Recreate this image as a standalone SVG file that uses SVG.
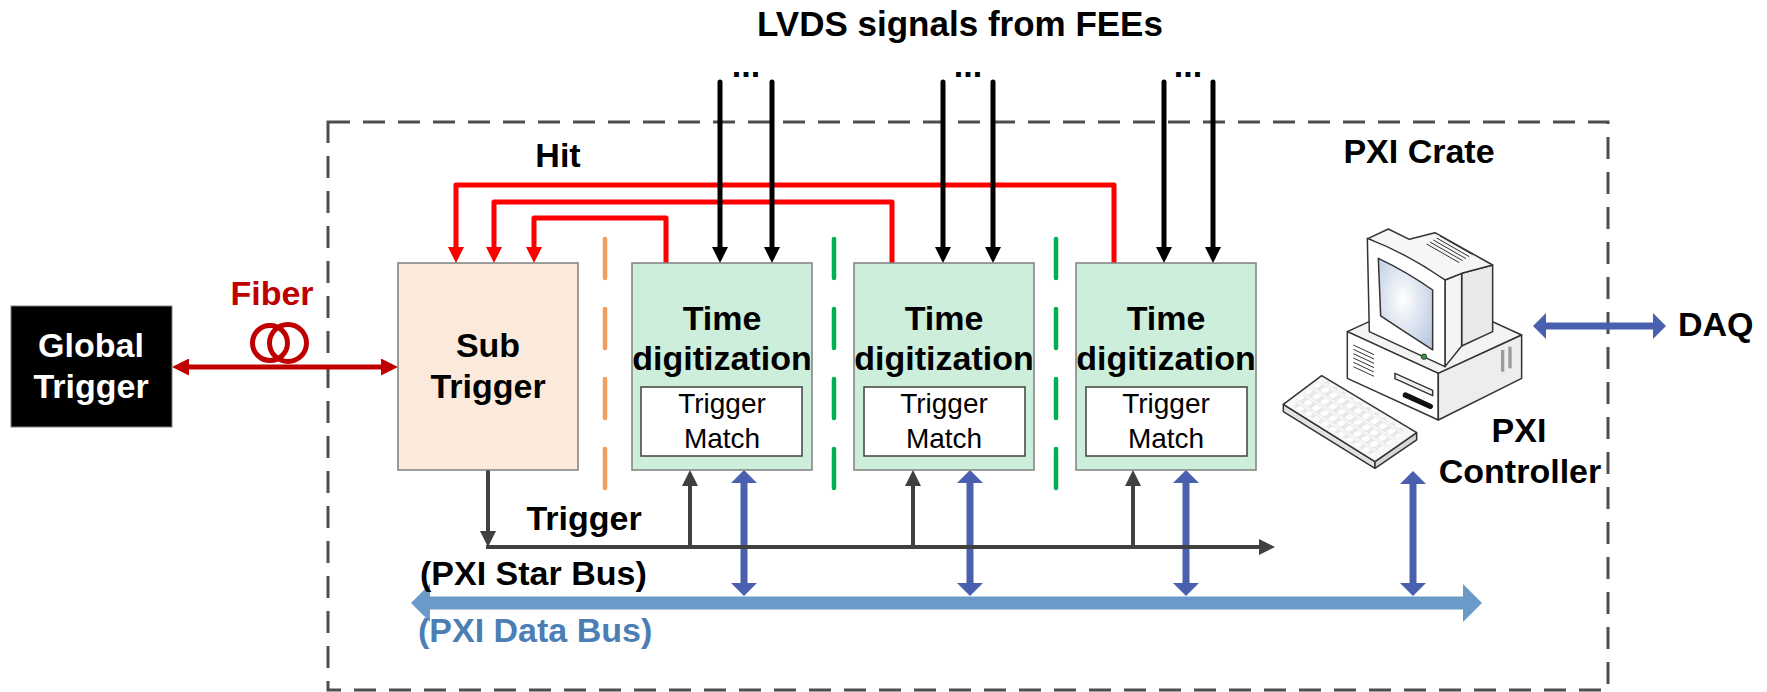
<svg xmlns="http://www.w3.org/2000/svg" width="1767" height="692" viewBox="0 0 1767 692">
  <style>
    .lb { font-family: "Liberation Sans", Arial, sans-serif; font-weight: bold; font-size: 34px; text-anchor: middle; fill: #000; }
    .lr { font-family: "Liberation Sans", Arial, sans-serif; font-size: 28px; text-anchor: middle; fill: #000; }
    .box { stroke: #7F7F7F; stroke-width: 1.5; }
    .sub { fill: #FBE9DB; }
    .tdc { fill: #CCEEDB; }
    .inner { fill: #FFFFFF; stroke: #404040; stroke-width: 1.5; }
    .hit { fill: none; stroke: #FF0000; stroke-width: 5; stroke-linejoin: round; marker-end: url(#aRed); }
    .lvds { fill: none; stroke: #000; stroke-width: 5; stroke-linecap: round; marker-end: url(#aBlack); }
    .trg { fill: none; stroke: #404040; stroke-width: 4; }
    .trga { marker-end: url(#aGray); }
    .blue { fill: none; stroke: #4A60AE; stroke-width: 7; marker-start: url(#aBlue); marker-end: url(#aBlue); }
    .sep { fill: none; stroke-width: 4.5; stroke-linecap: round; stroke-dasharray: 39 31; }
    .ic { stroke: #333; stroke-width: 4.5; stroke-linejoin: round; }
  </style>
  <defs>
    <marker id="aRed" markerUnits="userSpaceOnUse" viewBox="0 0 16 16" markerWidth="16" markerHeight="16" refX="10" refY="8" orient="auto">
      <path d="M0,0 L16,8 L0,16 z" fill="#FF0000"/>
    </marker>
    <marker id="aBlack" markerUnits="userSpaceOnUse" viewBox="0 0 16 16" markerWidth="16" markerHeight="16" refX="10" refY="8" orient="auto">
      <path d="M0,0 L16,8 L0,16 z" fill="#000"/>
    </marker>
    <marker id="aFiber" markerUnits="userSpaceOnUse" viewBox="0 0 17 17" markerWidth="17" markerHeight="17" refX="11" refY="8.5" orient="auto-start-reverse">
      <path d="M0,0 L17,8.5 L0,17 z" fill="#C00000"/>
    </marker>
    <marker id="aGray" markerUnits="userSpaceOnUse" viewBox="0 0 16 16" markerWidth="16" markerHeight="16" refX="10" refY="8" orient="auto">
      <path d="M0,0 L16,8 L0,16 z" fill="#404040"/>
    </marker>
    <marker id="aBlue" markerUnits="userSpaceOnUse" viewBox="0 0 13 26" markerWidth="13" markerHeight="26" refX="8" refY="13" orient="auto-start-reverse">
      <path d="M0,0 L13,13 L0,26 z" fill="#4A60AE"/>
    </marker>
    <marker id="aBus" markerUnits="userSpaceOnUse" viewBox="0 0 19 38" markerWidth="19" markerHeight="38" refX="11" refY="19" orient="auto-start-reverse">
      <path d="M0,0 L19,19 L0,38 z" fill="#6A9BC8"/>
    </marker>
    <radialGradient id="screen" cx="0.45" cy="0.45" r="0.7">
      <stop offset="0" stop-color="#FFFFFF"/>
      <stop offset="1" stop-color="#B9C8E0"/>
    </radialGradient>
    <pattern id="keys" patternUnits="userSpaceOnUse" width="9" height="22">
      <rect x="1" y="3" width="7" height="15" fill="#FFFFFF" stroke="#C4C4C4" stroke-width="0.6"/>
    </pattern>
  </defs>

  <!-- crate outline -->
  <rect id="crate" x="328" y="122" width="1280" height="568" fill="none" stroke="#4D4D4D" stroke-width="3" stroke-dasharray="22 13"/>

  <!-- slot separators -->
  <g id="separators">
    <line class="sep" x1="605" y1="239" x2="605" y2="490" stroke="#F29D5B"/>
    <line class="sep" x1="834" y1="239" x2="834" y2="490" stroke="#00B050"/>
    <line class="sep" x1="1056" y1="239" x2="1056" y2="490" stroke="#00B050"/>
  </g>

  <!-- connectors -->
  <g id="connectors">
    <!-- hit lines back to the sub trigger -->
    <path class="hit" d="M1114,263 V185 H456 V257"/>
    <path class="hit" d="M892,263 V202 H494 V257"/>
    <path class="hit" d="M666,263 V218 H534 V257"/>
    <!-- LVDS inputs -->
    <path class="lvds" d="M720,82 V257"/>
    <path class="lvds" d="M772,82 V257"/>
    <path class="lvds" d="M943,82 V257"/>
    <path class="lvds" d="M993,82 V257"/>
    <path class="lvds" d="M1164,82 V257"/>
    <path class="lvds" d="M1213,82 V257"/>
    <!-- fiber link -->
    <path d="M178,367 H392" fill="none" stroke="#C00000" stroke-width="5" marker-start="url(#aFiber)" marker-end="url(#aFiber)"/>
    <circle cx="270" cy="343" r="17.5" fill="none" stroke="#C00000" stroke-width="5"/>
    <circle cx="288" cy="343" r="18.5" fill="none" stroke="#C00000" stroke-width="5"/>
    <!-- PXI data bus -->
    <path d="M419,603 H1474" fill="none" stroke="#6A9BC8" stroke-width="13" marker-start="url(#aBus)" marker-end="url(#aBus)"/>
    <!-- data bus taps -->
    <path class="blue" d="M744,475 V591"/>
    <path class="blue" d="M970,475 V591"/>
    <path class="blue" d="M1186,475 V591"/>
    <path class="blue" d="M1413,476 V591"/>
    <path class="blue" d="M1538,326 H1661"/>
    <!-- trigger star bus -->
    <path class="trg trga" d="M488,470 V541"/>
    <path class="trg trga" d="M486,547 H1269"/>
    <path class="trg trga" d="M690,547 V476"/>
    <path class="trg trga" d="M913,547 V476"/>
    <path class="trg trga" d="M1133,547 V476"/>
  </g>

  <!-- nodes -->
  <g id="global-trigger">
    <rect x="11" y="306" width="161" height="121" fill="#000" stroke="#7F7F7F" stroke-width="1"/>
    <text class="lb" x="91" y="357" style="fill:#FFF">Global</text>
    <text class="lb" x="91" y="398" style="fill:#FFF">Trigger</text>
  </g>

  <g id="sub-trigger">
    <rect class="box sub" x="398" y="263" width="180" height="207"/>
    <text class="lb" x="488" y="357">Sub</text>
    <text class="lb" x="488" y="398">Trigger</text>
  </g>

  <g id="tdc-1">
    <rect class="box tdc" x="632" y="263" width="180" height="207"/>
    <text class="lb" x="722" y="330">Time</text>
    <text class="lb" x="722" y="370">digitization</text>
    <rect class="inner" x="641" y="387" width="161" height="69"/>
    <text class="lr" x="722" y="413">Trigger</text>
    <text class="lr" x="722" y="448">Match</text>
  </g>

  <g id="tdc-2">
    <rect class="box tdc" x="854" y="263" width="180" height="207"/>
    <text class="lb" x="944" y="330">Time</text>
    <text class="lb" x="944" y="370">digitization</text>
    <rect class="inner" x="864" y="387" width="161" height="69"/>
    <text class="lr" x="944" y="413">Trigger</text>
    <text class="lr" x="944" y="448">Match</text>
  </g>

  <g id="tdc-3">
    <rect class="box tdc" x="1076" y="263" width="180" height="207"/>
    <text class="lb" x="1166" y="330">Time</text>
    <text class="lb" x="1166" y="370">digitization</text>
    <rect class="inner" x="1086" y="387" width="161" height="69"/>
    <text class="lr" x="1166" y="413">Trigger</text>
    <text class="lr" x="1166" y="448">Match</text>
  </g>

  <!-- controller workstation icon -->
  <g id="pxi-controller">
    <g transform="translate(1250 210) scale(0.3333)">
      <!-- system unit -->
      <polygon class="ic" points="292,365 542,250 815,375 565,490" fill="#F3F3F3"/>
      <polygon class="ic" points="292,365 565,490 565,630 292,505" fill="#FFFFFF"/>
      <polygon class="ic" points="565,490 815,375 815,505 565,630" fill="#EDEDED"/>
      <g stroke="#333" stroke-width="3">
        <line x1="310" y1="405" x2="372" y2="434"/>
        <line x1="310" y1="418" x2="372" y2="447"/>
        <line x1="310" y1="431" x2="372" y2="460"/>
        <line x1="310" y1="444" x2="372" y2="473"/>
        <line x1="310" y1="457" x2="372" y2="486"/>
        <line x1="310" y1="470" x2="372" y2="499"/>
      </g>
      <polygon class="ic" points="435,490 548,541 548,557 435,506" fill="#FFFFFF"/>
      <line x1="440" y1="500" x2="543" y2="547" stroke="#999" stroke-width="2" stroke-dasharray="3 3"/>
      <line x1="466" y1="555" x2="541" y2="589" stroke="#111" stroke-width="16" stroke-linecap="round"/>
      <line x1="758" y1="420" x2="758" y2="485" stroke="#9A9A9A" stroke-width="10"/>
      <line x1="780" y1="410" x2="780" y2="475" stroke="#9A9A9A" stroke-width="10"/>
      <!-- monitor housing -->
      <polygon class="ic" points="635,190 728,165 728,365 635,408" fill="#E9E9E9"/>
      <polygon class="ic" points="585,210 635,190 635,408 585,470" fill="#F4F4F4"/>
      <polygon class="ic" points="355,85 415,57 478,88 555,68 728,165 635,190 585,210" fill="#F6F6F6"/>
      <g stroke="#333" stroke-width="3">
        <line x1="530" y1="102" x2="628" y2="158"/>
        <line x1="540" y1="96" x2="638" y2="152"/>
        <line x1="550" y1="90" x2="648" y2="146"/>
        <line x1="560" y1="84" x2="658" y2="140"/>
        <line x1="570" y1="78" x2="668" y2="134"/>
      </g>
      <path class="ic" d="M352,85 Q470,130 585,210 L585,470 L358,365 Z" fill="#FFFFFF"/>
      <path class="ic" d="M385,145 Q470,185 548,240 L548,420 Q470,370 392,318 Z" fill="url(#screen)"/>
      <circle cx="522" cy="440" r="8" fill="#2E9E3E" stroke="#333" stroke-width="3"/>
      <!-- keyboard -->
      <polygon class="ic" points="100,583 375,755 375,775 100,605" fill="#E2E2E2"/>
      <polygon class="ic" points="375,755 500,668 500,690 375,775" fill="#D6D6D6"/>
      <polygon class="ic" points="100,583 215,497 500,668 375,755" fill="#F6F6F6"/>
      <g transform="matrix(2.75 1.72 1.15 -0.86 100 583)">
        <rect x="4" y="8" width="90" height="88" fill="url(#keys)"/>
      </g>
    </g>
    <text class="lb" x="1519" y="442">PXI</text>
    <text class="lb" x="1520" y="483">Controller</text>
  </g>

  <!-- labels -->
  <g id="labels">
    <text class="lb" x="960" y="36" style="font-size:35px">LVDS signals from FEEs</text>
    <text class="lb" x="746" y="77">...</text>
    <text class="lb" x="968" y="77">...</text>
    <text class="lb" x="1188" y="77">...</text>
    <text class="lb" x="558" y="167">Hit</text>
    <text class="lb" x="1419" y="163">PXI Crate</text>
    <text class="lb" x="272" y="305" style="fill:#C00000">Fiber</text>
    <text class="lb" x="584" y="530">Trigger</text>
    <text class="lb" x="420" y="585" style="text-anchor:start">(PXI Star Bus)</text>
    <text class="lb" x="418" y="642" style="text-anchor:start;fill:#4A7EB4">(PXI Data Bus)</text>
    <text class="lb" x="1678" y="336" style="text-anchor:start">DAQ</text>
  </g>
</svg>
